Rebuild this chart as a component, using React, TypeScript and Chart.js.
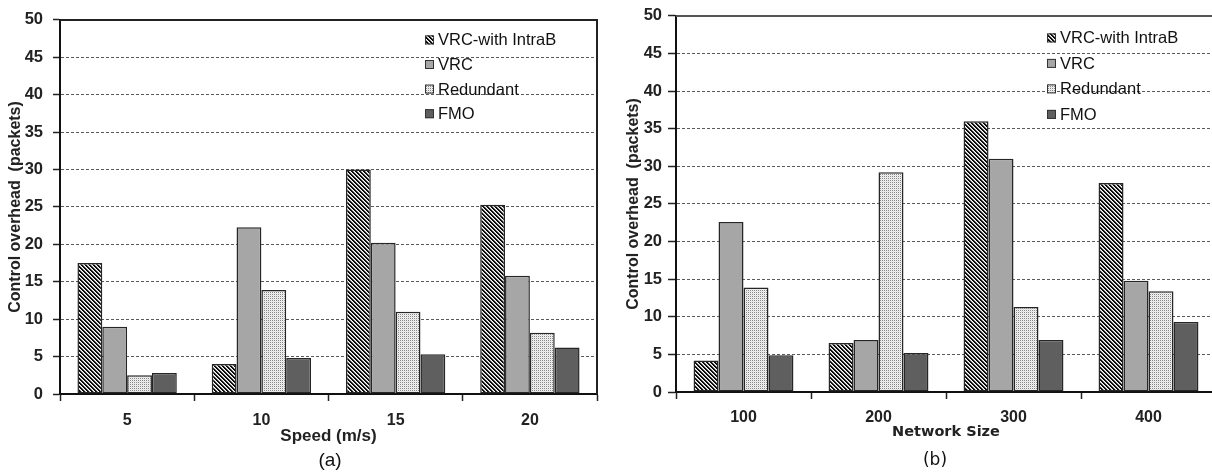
import React, { useEffect, useRef } from 'react';
import { Chart, registerables } from 'chart.js';

Chart.register(...registerables);

// ---------- data ----------
const seriesNames = ['VRC-with IntraB', 'VRC', 'Redundant', 'FMO'];
const yTickMax = 50;
const yTickStep = 5;

const speedLabels = ['5', '10', '15', '20'];
const speedIntraB = [17.5, 4.0, 30.0, 25.3];
const speedVRC = [9.0, 22.3, 20.2, 15.8];
const speedRedundant = [2.5, 13.9, 11.0, 8.2];
const speedFMO = [2.8, 4.8, 5.3, 6.2];

const sizeLabels = ['100', '200', '300', '400'];
const sizeIntraB = [4.2, 6.5, 36.0, 27.8];
const sizeVRC = [22.6, 6.9, 31.0, 14.8];
const sizeRedundant = [13.9, 29.2, 11.3, 13.4];
const sizeFMO = [4.9, 5.2, 6.9, 9.3];

const yTitle = 'Control overhead  (packets)';
const speedTitle = 'Speed (m/s)';
const sizeTitle = 'Network Size';

// ---------- styles ----------
const FONT = '"Liberation Sans", Arial, sans-serif';
const DEJAVU = '"DejaVu Sans", sans-serif';

function stripePattern(): CanvasPattern | string {
  const c = document.createElement('canvas');
  c.width = 4;
  c.height = 4;
  const x = c.getContext('2d');
  if (!x) return '#444';
  x.fillStyle = '#ffffff';
  x.fillRect(0, 0, 4, 4);
  for (let i = 0; i < 4; i++) {
    for (let j = 0; j < 4; j++) {
      const d = (((i - j) % 4) + 4) % 4;
      if (d < 2) {
        x.fillStyle = '#0d0d0d';
        x.fillRect(i, j, 1, 1);
      } else if (d === 2) {
        x.fillStyle = '#b0b0b0';
        x.fillRect(i, j, 1, 1);
      }
    }
  }
  return x.createPattern(c, 'repeat') || '#444';
}

function dotPattern(): CanvasPattern | string {
  const c = document.createElement('canvas');
  c.width = 2;
  c.height = 2;
  const x = c.getContext('2d');
  if (!x) return '#ddd';
  x.fillStyle = '#f2f2f2';
  x.fillRect(0, 0, 2, 2);
  x.fillStyle = '#858585';
  x.fillRect(0, 0, 1, 1);
  x.fillStyle = '#e0e0e0';
  x.fillRect(1, 1, 1, 1);
  return x.createPattern(c, 'repeat') || '#ddd';
}

const boxLegend = {
  id: 'boxLegend',
  afterDraw(chart: any, _args: any, opts: any) {
    const { ctx, chartArea } = chart;
    ctx.save();
    ctx.font = `16.5px ${FONT}`;
    ctx.textBaseline = 'middle';
    chart.data.datasets.forEach((ds: any, i: number) => {
      const x = chartArea.right - opts.dx;
      const y = chartArea.top + opts.dy + i * opts.gap;
      ctx.fillStyle = ds.backgroundColor;
      ctx.fillRect(x, y - 4.5, 9, 9);
      ctx.strokeStyle = '#333';
      ctx.lineWidth = 1;
      ctx.strokeRect(x + 0.5, y - 4, 8, 8);
      ctx.fillStyle = '#111';
      ctx.fillText(ds.label, x + 13, y + 1);
    });
    ctx.restore();
  },
};

const frame = {
  id: 'frame',
  afterDraw(chart: any, _args: any, opts: any) {
    const { ctx, chartArea } = chart;
    ctx.save();
    ctx.strokeStyle = opts.color;
    ctx.lineWidth = 2;
    ctx.beginPath();
    ctx.moveTo(chartArea.left, chartArea.top);
    ctx.lineTo(chartArea.right, chartArea.top);
    if (opts.right) ctx.lineTo(chartArea.right, chartArea.bottom);
    ctx.stroke();
    ctx.restore();
  },
};

type Cfg = {
  labels: string[];
  series: number[][];
  xTitle: string;
  xTitleFont: any;
  padding: any;
  yWidth: number;
  xHeight: number;
  yTitlePad: number;
  yTickPad: number;
  yTickLen: number;
  xTickPad: number;
  legend: any;
  frameOpts: any;
};

function BarChart({ cfg, width, height }: { cfg: Cfg; width: number; height: number }) {
  const ref = useRef<HTMLCanvasElement | null>(null);
  useEffect(() => {
    if (!ref.current) return;
    const fills = [stripePattern(), '#a6a6a6', dotPattern(), '#5f5f5f'];
    const chart = new Chart(ref.current, {
      type: 'bar',
      data: {
        labels: cfg.labels,
        datasets: seriesNames.map((name, i) => ({
          label: name,
          data: cfg.series[i],
          backgroundColor: fills[i] as any,
          borderColor: '#262626',
          borderWidth: 1.5,
          borderSkipped: false,
          categoryPercentage: 0.74,
          barPercentage: 1.0,
        })),
      },
      options: {
        responsive: false,
        animation: false,
        devicePixelRatio: 1,
        layout: { padding: cfg.padding },
        plugins: {
          legend: { display: false },
          tooltip: { enabled: false },
          boxLegend: cfg.legend,
          frame: cfg.frameOpts,
        } as any,
        scales: {
          x: {
            grid: {
              display: true,
              drawOnChartArea: false,
              drawTicks: true,
              tickLength: 7,
              tickColor: '#222',
              tickWidth: 1.5,
              offset: true,
            },
            border: { display: true, color: '#111', width: 2 },
            ticks: {
              padding: cfg.xTickPad,
              color: '#222',
              font: { family: FONT, size: 16, weight: 'bold' },
            },
            title: {
              display: true,
              text: cfg.xTitle,
              color: '#222',
              font: cfg.xTitleFont,
              padding: { top: 0, bottom: 3 },
            },
            afterFit: (s: any) => {
              s.height = cfg.xHeight;
            },
          },
          y: {
            min: 0,
            max: yTickMax,
            grid: {
              color: (c: any) => (c.tick && (c.tick.value === yTickMax || c.tick.value === 0) ? 'rgba(0,0,0,0)' : '#5a5a5a'),
              lineWidth: 1,
              tickColor: '#222',
              tickLength: cfg.yTickLen,
              tickWidth: 1.5,
              borderDash: [3, 2],
            } as any,
            border: { display: true, color: '#111', width: 2, dash: [3, 2] } as any,
            ticks: {
              stepSize: yTickStep,
              padding: cfg.yTickPad,
              color: '#222',
              font: { family: FONT, size: 16.5, weight: 'bold' },
            },
            title: {
              display: true,
              text: yTitle,
              color: '#222',
              font: { family: FONT, size: 16, weight: 'bold', lineHeight: 1.2 },
              padding: { top: cfg.yTitlePad, bottom: 0 },
            },
            afterFit: (s: any) => {
              s.width = cfg.yWidth;
            },
          },
        },
      } as any,
      plugins: [boxLegend, frame],
    });
    return () => chart.destroy();
  }, []);
  return <canvas ref={ref} width={width} height={height} style={{ width, height, display: 'block' }} />;
}

const leftCfg: Cfg = {
  labels: speedLabels,
  series: [speedIntraB, speedVRC, speedRedundant, speedFMO],
  xTitle: speedTitle,
  xTitleFont: { family: FONT, size: 17, weight: 'bold', lineHeight: 1.2 },
  padding: { top: 19, right: 3, bottom: 23, left: 0 },
  yWidth: 60,
  xHeight: 56,
  yTitlePad: 6,
  yTickPad: 10,
  yTickLen: 7,
  xTickPad: 10,
  legend: { dx: 172, dy: 20, gap: 24.6 },
  frameOpts: { color: '#222', right: true },
};

const rightCfg: Cfg = {
  labels: sizeLabels,
  series: [sizeIntraB, sizeVRC, sizeRedundant, sizeFMO],
  xTitle: sizeTitle,
  xTitleFont: { family: DEJAVU, size: 14.5, weight: 'bold', lineHeight: 1.2 },
  padding: { top: 15, right: 4, bottom: 29, left: 0 },
  yWidth: 76,
  xHeight: 52,
  yTitlePad: 24,
  yTickPad: 6,
  yTickLen: 8,
  xTickPad: 9,
  legend: { dx: 169, dy: 22, gap: 25.5 },
  frameOpts: { color: '#555', right: false },
};

export default function App() {
  return (
    <div
      style={{
        position: 'fixed',
        left: 0,
        top: 0,
        width: 1212,
        height: 473,
        overflow: 'hidden',
        background: '#fff',
      }}
    >
      <div style={{ position: 'absolute', left: 0, top: 0 }}>
        <BarChart cfg={leftCfg} width={600} height={473} />
      </div>
      <div style={{ position: 'absolute', left: 600, top: 0 }}>
        <BarChart cfg={rightCfg} width={620} height={473} />
      </div>
      <div
        style={{
          position: 'absolute',
          left: 330,
          top: 459,
          transform: 'translate(-50%, -50%)',
          font: `19px ${FONT}`,
          lineHeight: 1,
          color: '#111',
          whiteSpace: 'nowrap',
        }}
      >
        (a)
      </div>
      <div
        style={{
          position: 'absolute',
          left: 935,
          top: 459,
          transform: 'translate(-50%, -50%)',
          font: `17px ${DEJAVU}`,
          lineHeight: 1,
          color: '#111',
          whiteSpace: 'nowrap',
        }}
      >
        (b)
      </div>
    </div>
  );
}
